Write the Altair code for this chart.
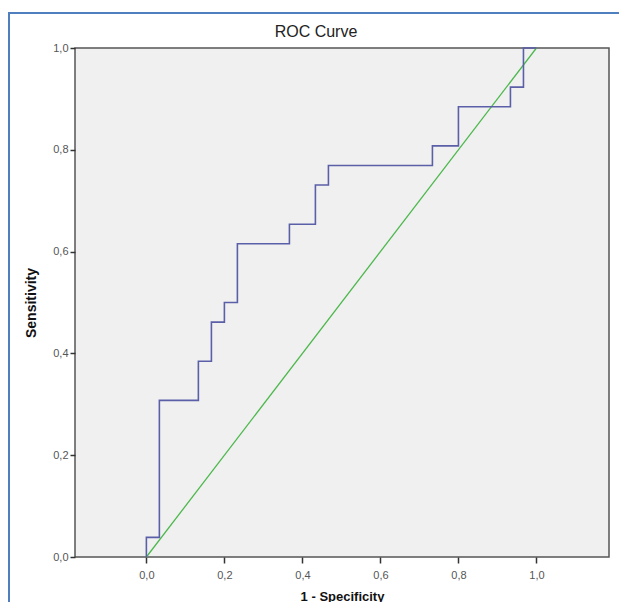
import altair as alt
import pandas as pd

# ROC step curve (1 - specificity, sensitivity)
fpr = [0.0, 0.0, 0.0333, 0.0333, 0.1333, 0.1333, 0.1667, 0.1667, 0.2, 0.2, 0.2333, 0.2333,
       0.3667, 0.3667, 0.4333, 0.4333, 0.4667, 0.4667, 0.7333, 0.7333, 0.8, 0.8,
       0.9333, 0.9333, 0.9667, 0.9667, 1.0]
tpr = [0.0, 0.0385, 0.0385, 0.3077, 0.3077, 0.3846, 0.3846, 0.4615, 0.4615, 0.5, 0.5, 0.6154,
       0.6154, 0.6538, 0.6538, 0.7308, 0.7308, 0.7692, 0.7692, 0.8077, 0.8077, 0.8846,
       0.8846, 0.9231, 0.9231, 1.0, 1.0]
ref_x = [0.0, 1.0]
ref_y = [0.0, 1.0]
ticks = [0.0, 0.2, 0.4, 0.6, 0.8, 1.0]
chart_title = "ROC Curve"

roc = pd.DataFrame({"x": fpr, "y": tpr, "o": list(range(len(fpr)))})
ref = pd.DataFrame({"x": ref_x, "y": ref_y})

FONT = "Liberation Sans Narrow, Liberation Sans, Arial, sans-serif"
BOLD = "Liberation Sans, Arial, sans-serif"
label_expr = "replace(format(datum.value, '.1f'), '.', ',')"

xs = alt.Scale(domain=[-0.183, 1.186], nice=False, zero=False)
ys = alt.Scale(domain=[0, 1], nice=False)

xax = alt.Axis(values=ticks, labelExpr=label_expr, title="1 - Specificity", grid=False,
               domain=False, tickColor="#333333", tickSize=6, tickWidth=1.5,
               labelColor="#555555", labelFontSize=11, labelFont=FONT, labelPadding=6,
               titleFont=BOLD, titleFontSize=13, titleFontWeight="bold",
               titleColor="#111111", titlePadding=10)
yax = alt.Axis(values=ticks, labelExpr=label_expr, title="Sensitivity", grid=False,
               domain=False, tickColor="#333333", tickSize=5, tickWidth=1.5,
               labelColor="#555555", labelFontSize=11, labelFont=FONT, labelPadding=2,
               titleFont=BOLD, titleFontSize=14, titleFontWeight="bold",
               titleColor="#111111", titlePadding=14)

one = pd.DataFrame({"t": [chart_title]})

frame = alt.Chart(one).mark_rect(
    fill=None, stroke="#4f7fbf", strokeWidth=2
).encode(x=alt.value(-66), x2=alt.value(640), y=alt.value(-35), y2=alt.value(600))

title_mark = alt.Chart(one).mark_text(
    font=FONT, fontSize=16, color="#222222", align="center", baseline="middle"
).encode(text="t:N", x=alt.value(241), y=alt.value(-16))

diag = alt.Chart(ref).mark_line(color="#4cb84c", strokeWidth=1.3).encode(
    x=alt.X("x:Q", scale=xs, axis=xax), y=alt.Y("y:Q", scale=ys, axis=yax))

curve = alt.Chart(roc).mark_line(color="#5a5fa8", strokeWidth=1.6).encode(
    x=alt.X("x:Q", scale=xs), y=alt.Y("y:Q", scale=ys), order="o:Q")

chart = alt.layer(diag, curve, frame, title_mark).properties(
    width=534, height=509,
    autosize="none",
    padding={"left": 67, "top": 40, "right": 10, "bottom": 45},
    background="white",
).configure_view(fill="#f0f0f0", stroke="#555555", strokeWidth=1.5)

chart.save("out.html", embed_options={"renderer": "svg", "actions": False})
